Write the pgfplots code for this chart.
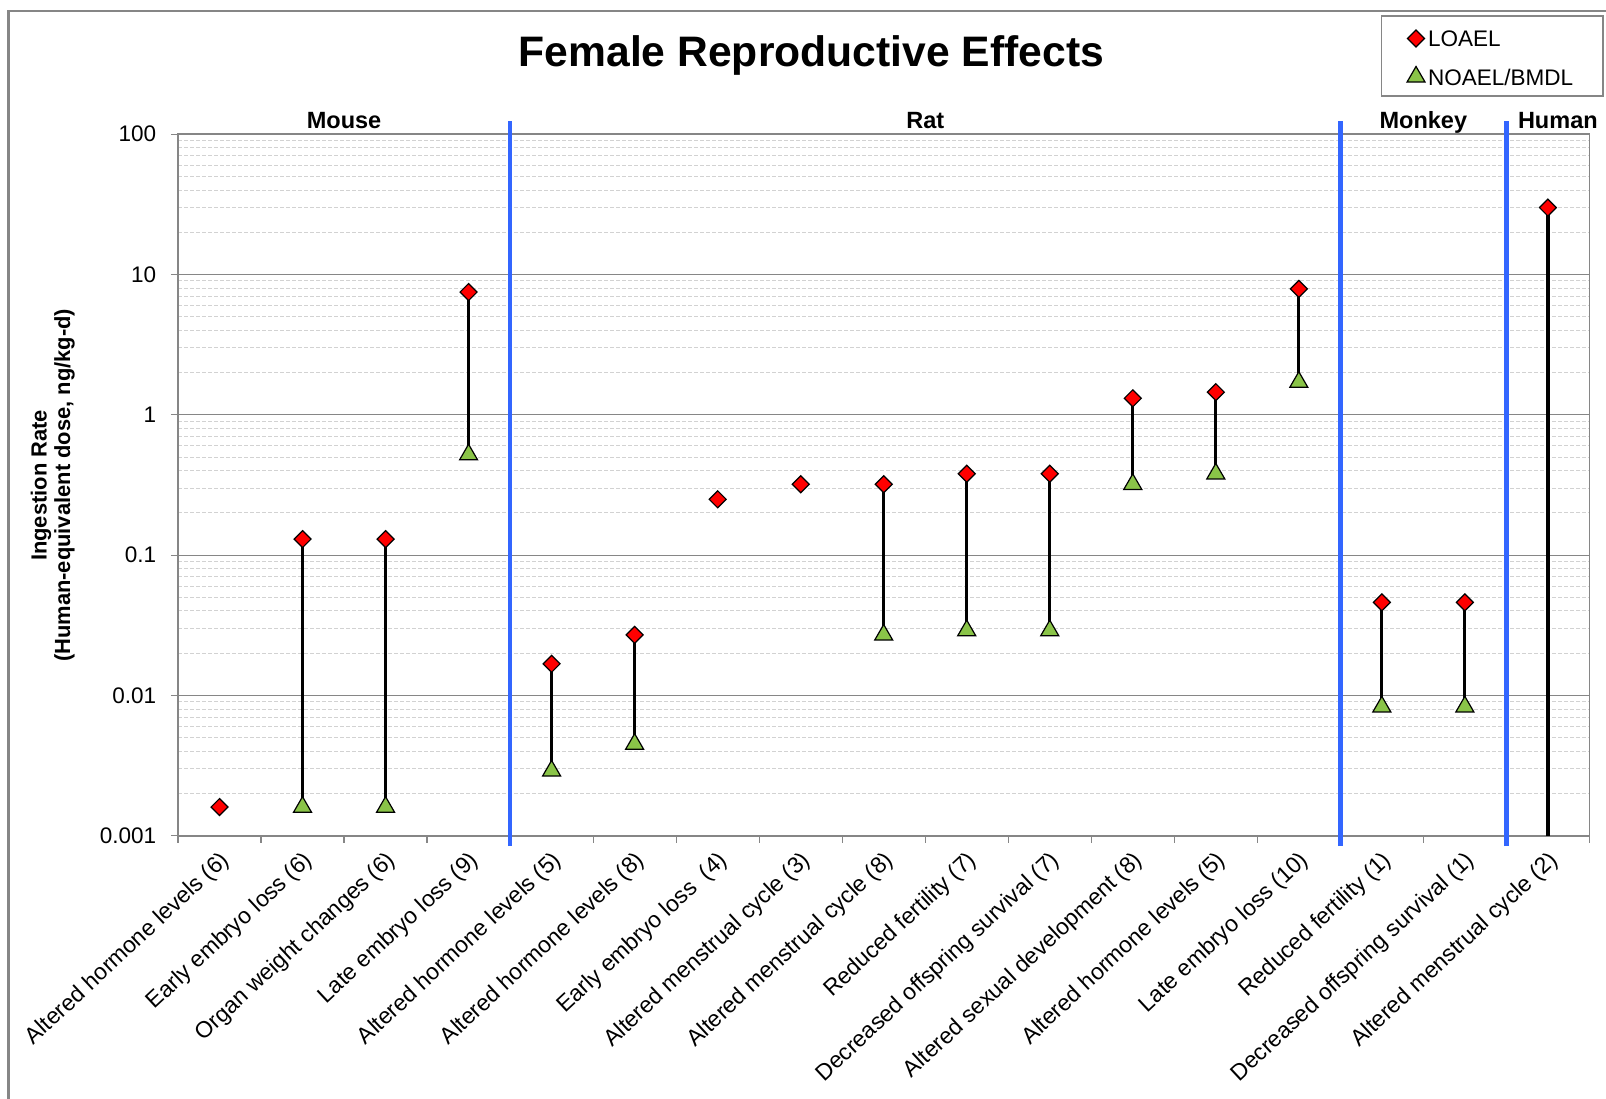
\documentclass[border=0pt]{standalone}
\usepackage{pgfplots}
\pgfplotsset{compat=1.18}
\usepackage{fontspec}
\setmainfont{Liberation Sans}

\definecolor{loaelred}{RGB}{255,0,0}
\definecolor{noaelgreen}{RGB}{138,196,72}
\definecolor{sepblue}{RGB}{51,102,255}
\definecolor{framegray}{RGB}{134,134,134}

\newcommand{\ticksize}{\fontsize{11.3}{13}\selectfont}
\newcommand{\catsize}{\fontsize{11.5}{13}\selectfont}

\begin{document}
\begin{tikzpicture}
\path[use as bounding box] (0,0) rectangle (803bp,549.5bp);
% outer chart frame
\draw[framegray, line width=1.3bp] (4.2bp,0) -- (4.2bp,544bp) -- (803bp,544bp);

\begin{axis}[
  at={(89bp,131.65bp)}, anchor=south west,
  scale only axis, width=705.7bp, height=350.75bp,
  ymode=log, ymin=0.001, ymax=100,
  xmin=-0.5, xmax=16.5,
  clip=false,
  axis line style={framegray, line width=0.8bp},
  tick pos=left,
  tick align=outside,
  major tick length=3.6bp,
  minor tick length=0pt,
  tick style={framegray, line width=0.6bp},
  ytick={0.001,0.01,0.1,1,10,100},
  yticklabels={0.001,0.01,0.1,1,10,100},
  yticklabel style={anchor=east, inner sep=0pt, xshift=-7.15bp, font=\ticksize},
  xtick={-0.5,0.5,...,16.5},
  xticklabels={},
  extra x ticks={0,1,...,16},
  extra x tick labels={
    Altered hormone levels (6),
    Early embryo loss (6),
    Organ weight changes (6),
    Late embryo loss (9),
    Altered hormone levels (5),
    Altered hormone levels (8),
    Early embryo loss \ (4),
    Altered menstrual cycle (3),
    Altered menstrual cycle (8),
    Reduced fertility (7),
    Decreased offspring survival (7),
    Altered sexual development (8),
    Altered hormone levels (5),
    Late embryo loss (10),
    Reduced fertility (1),
    Decreased offspring survival (1),
    Altered menstrual cycle (2)},
  extra x tick style={major tick length=0pt, grid=none},
  xticklabel style={xshift=3.5bp, yshift=-10.8bp, rotate=43, anchor=east,
    inner sep=0pt, font=\catsize},
  ymajorgrids, yminorgrids,
  major grid style={framegray, line width=0.5bp},
  minor grid style={gray!35, dash pattern=on 2bp off 1bp, line width=0.5bp},
  legend cell align=left,
  legend image code/.code={\draw[#1] plot coordinates {(0bp,0bp)};},
  legend style={draw=none, fill=none, at={(axis description cs:0.8705,1.1093)},
    anchor=west, inner sep=0pt, row sep=9.75bp, column sep=1.5bp,
    font=\ticksize, nodes={inner sep=0pt, text height=8.2bp, text depth=0bp}},
]

% NOAEL-to-LOAEL ranges
\addplot[black, line width=1.6bp, forget plot, unbounded coords=jump] coordinates {
  (1,0.0016) (1,0.13) (1,nan)
  (2,0.0016) (2,0.13) (2,nan)
  (3,0.52) (3,7.5) (3,nan)
  (4,0.0029) (4,0.0168) (4,nan)
  (5,0.0045) (5,0.027) (5,nan)
  (8,0.027) (8,0.32) (8,nan)
  (9,0.029) (9,0.38) (9,nan)
  (10,0.029) (10,0.38) (10,nan)
  (11,0.32) (11,1.31) (11,nan)
  (12,0.38) (12,1.45) (12,nan)
  (13,1.71) (13,7.9) (13,nan)
  (14,0.0083) (14,0.046) (14,nan)
  (15,0.0083) (15,0.046) (15,nan)
  (16,0.001) (16,30)
};

% LOAEL
\addplot[only marks, mark=square*, mark size=3bp,
  mark options={rotate=45, fill=loaelred, draw=black, line width=0.6bp}] coordinates {
  (0,0.0016) (1,0.13) (2,0.13) (3,7.5) (4,0.0168) (5,0.027) (6,0.25) (7,0.32)
  (8,0.32) (9,0.38) (10,0.38) (11,1.31) (12,1.45) (13,7.9) (14,0.046) (15,0.046)
  (16,30)
};
\addlegendentry{LOAEL}

% NOAEL / BMDL
\addplot[only marks, mark=triangle*, mark size=5.2bp,
  mark options={fill=noaelgreen, draw=black, line width=0.6bp}] coordinates {
  (1,0.0016) (2,0.0016) (3,0.52) (4,0.0029) (5,0.0045) (8,0.027) (9,0.029)
  (10,0.029) (11,0.32) (12,0.38) (13,1.71) (14,0.0083) (15,0.0083)
};
\addlegendentry{NOAEL/BMDL}

% species separators
\draw[sepblue, line width=2.2bp] ([yshift=-5.2bp]axis cs:3.5,0.001) -- ([yshift=6.7bp]axis cs:3.5,100);
\draw[sepblue, line width=2.2bp] ([yshift=-5.2bp]axis cs:13.5,0.001) -- ([yshift=6.7bp]axis cs:13.5,100);
\draw[sepblue, line width=2.2bp] ([yshift=-5.2bp]axis cs:15.5,0.001) -- ([yshift=6.7bp]axis cs:15.5,100);

% species headings
\begin{scope}[every node/.style={anchor=base, font=\bfseries\fontsize{11.8}{13}\selectfont}]
  \node at ([yshift=2.7bp]axis cs:1.5,100) {Mouse};
  \node at ([yshift=2.7bp]axis cs:8.5,100) {Rat};
  \node at ([yshift=2.7bp]axis cs:14.5,100) {Monkey};
  \node at ([yshift=2.7bp]axis cs:16.12,100) {Human};
\end{scope}
\end{axis}

% legend frame
\draw[framegray, line width=0.8bp] (690.8bp,501.5bp) rectangle (801.5bp,541.5bp);

% title
\node[anchor=base, font=\bfseries\fontsize{21.4}{24}\selectfont] at (405.7bp,516.2bp) {Female Reproductive Effects};

% y axis title
\node[rotate=90, align=center, font=\bfseries\fontsize{11}{11.75}\selectfont] at (26.4bp,306.8bp)
  {Ingestion Rate\\(Human-equivalent dose, ng/kg-d)};
\end{tikzpicture}
\end{document}
